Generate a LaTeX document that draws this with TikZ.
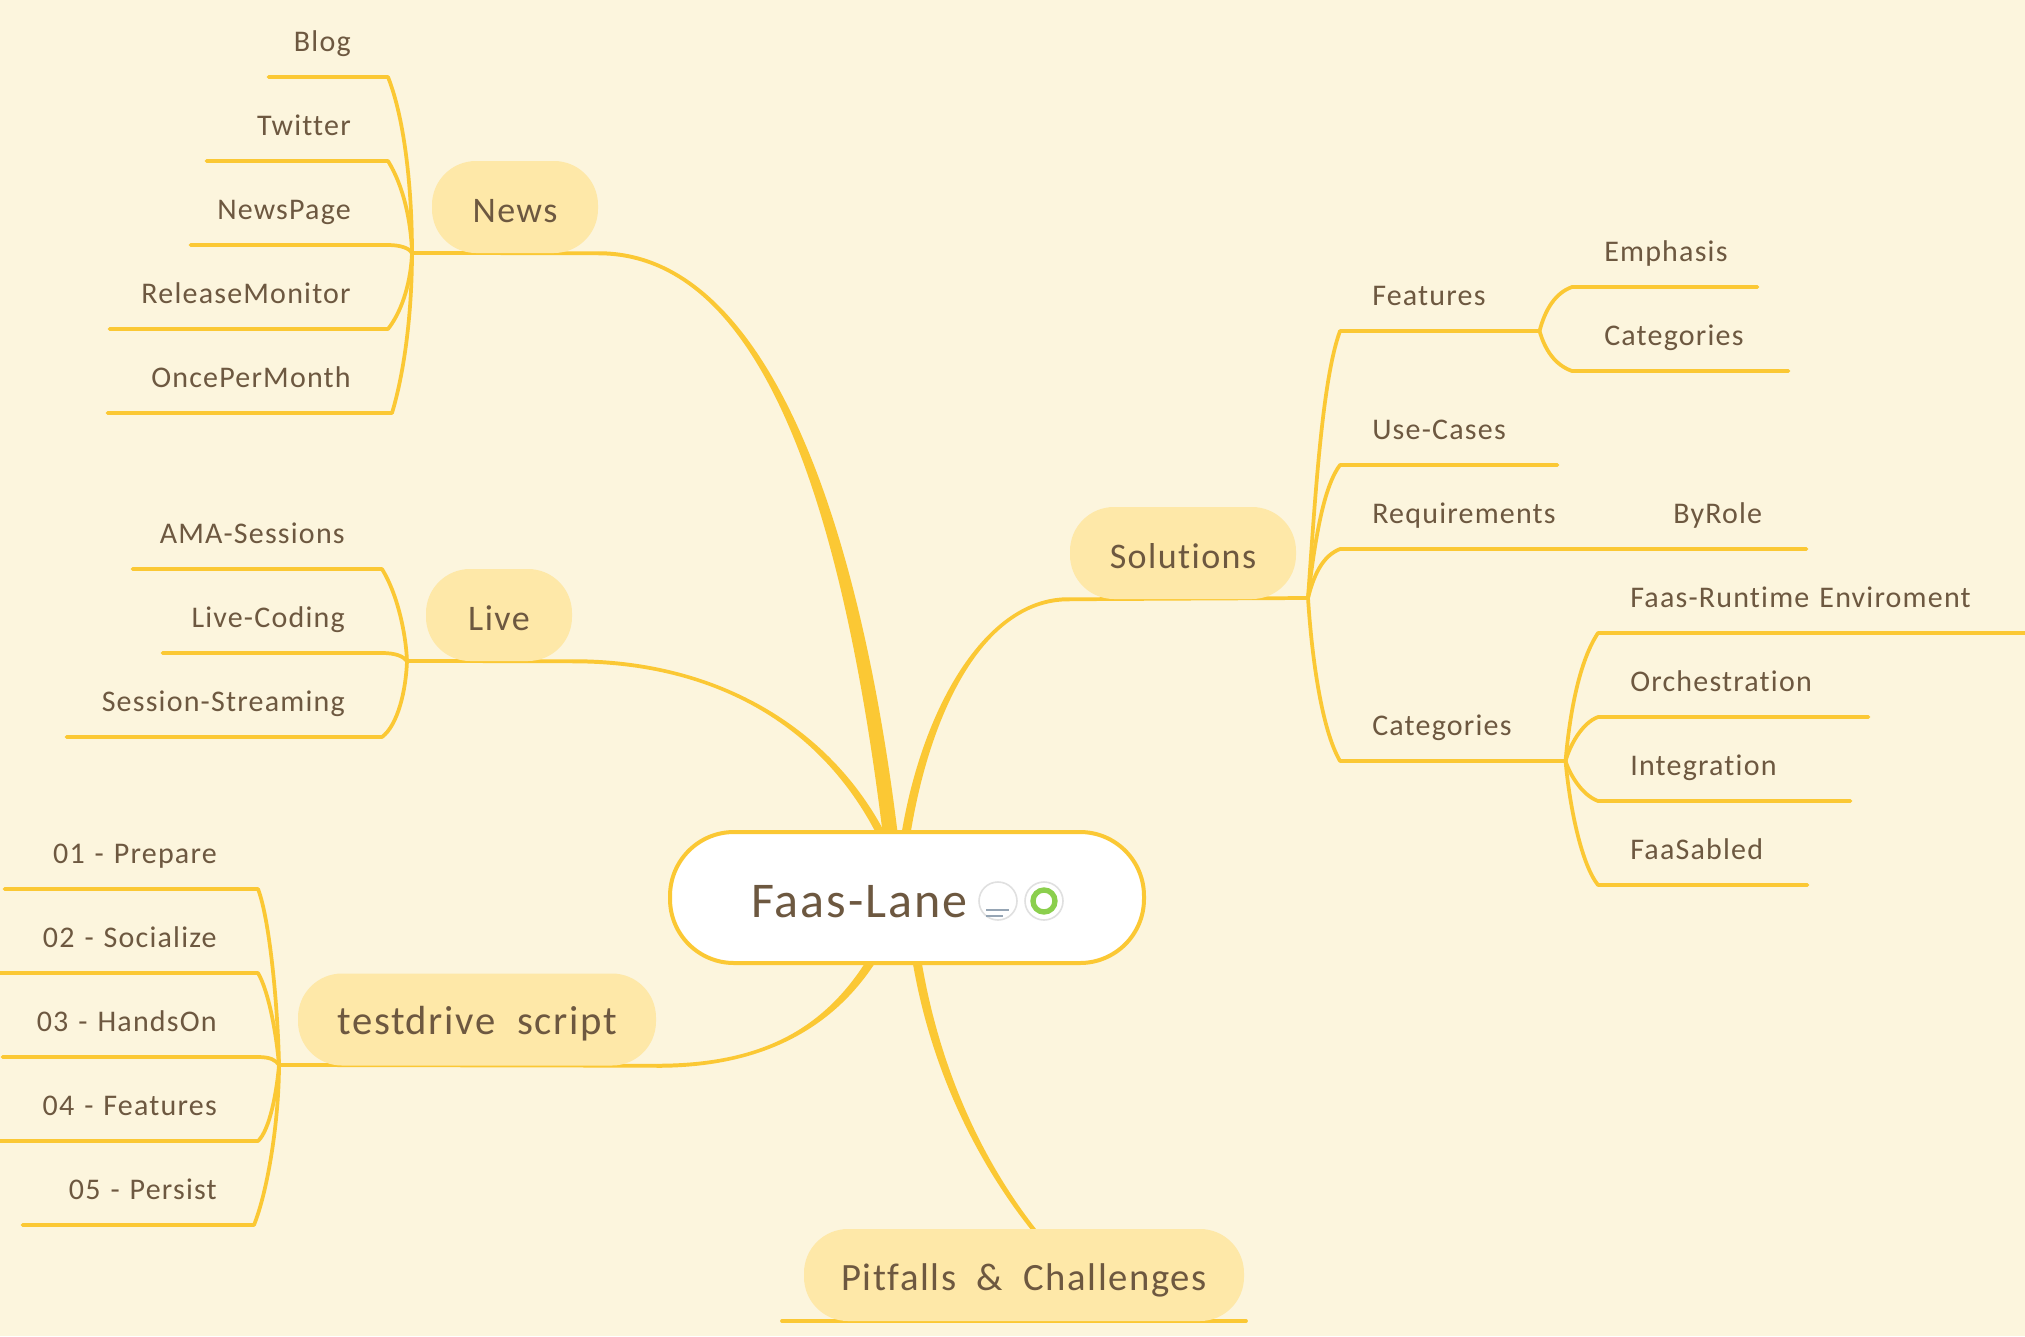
\documentclass[tikz,border=0pt]{standalone}
\usepackage{fontspec}
\setmainfont{Carlito}[LetterSpace=4,WordSpace=2,Ligatures=NoCommon]
\usetikzlibrary{calc}
\usetikzlibrary{backgrounds}
\definecolor{paper}{RGB}{252,245,221}
\definecolor{twigcol}{RGB}{251,200,52}
\definecolor{pillcol}{RGB}{254,232,168}
\definecolor{inkcol}{RGB}{109,88,64}
\definecolor{ringcol}{RGB}{139,207,77}
\definecolor{notecol}{RGB}{150,165,180}
\tikzset{twig/.style={draw=twigcol,line width=2.8pt,line cap=round,line join=round},
    branchfill/.style={fill=twigcol},
    leaf/.style={inner sep=0pt,text height=20pt,text depth=18.75pt,text=inkcol,font=\fontsize{22.5pt}{27pt}\selectfont},
    leafL/.style 2 args={leaf,anchor=south east,align=right,text width=#1,execute at end node={\kern#2}},
    leafR/.style={leaf,anchor=south west,align=left,text width=#1,execute at begin node={\kern24pt}},
    pill/.style={fill=pillcol,rounded corners=33pt,inner sep=0pt,minimum height=69pt,text height=26pt,text depth=3.5pt,text=inkcol,font=\fontsize{27pt}{32pt}\selectfont},
    iconring/.style={circle,draw=black!12,line width=1.2pt,fill=white,inner sep=0pt,minimum size=28.5pt}}
\newcommand{\taperbranch}[6]{\fill[branchfill] ($(#1)-#5$) .. controls ($(#2)-#5$) and ($(#3)-#6$) .. ($(#4)-#6$) -- ($(#4)+#6$) .. controls ($(#3)+#6$) and ($(#2)+#5$) .. ($(#1)+#5$) -- cycle;}

\begin{document}
\begin{tikzpicture}[x=0.75pt,y=0.75pt,yscale=-1,xscale=1]
\useasboundingbox (0,0) rectangle (2025,1336);

% Root and main topics
\node[draw=twigcol,line width=3pt,fill=white,rounded corners=48pt,minimum width=355.5pt,minimum height=98.25pt,inner sep=0pt] (root) at (907,897.5) {};
\node[anchor=base west,inner sep=0pt,text=inkcol,font=\fontsize{37.5pt}{44pt}\selectfont] (rootText) at (751,917) {Faas-Lane};
\node[iconring] (noteIcon) at (998,901) {};
\node[iconring] (doneIcon) at (1044,901) {};
\node[circle,draw=ringcol,inner sep=0pt,line width=4pt,minimum size=16.5pt] (doneRing) at (doneIcon) {};
\node[pill,minimum width=124.5pt] (news) at (515,207) {News};
\node[pill,minimum width=109.5pt] (live) at (499,615) {Live};
\node[pill,minimum width=169.5pt] (solutions) at (1183,553) {Solutions};
\node[pill,minimum width=268.5pt,font=\fontsize{30.5pt}{36pt}\selectfont] (testdrive) at (477,1019.5) {testdrive script};
\node[pill,minimum width=330pt,font=\fontsize{29pt}{34pt}\selectfont] (pitfalls) at (1024,1275) {Pitfalls \& Challenges};

% Text Node
\node[leafL={89.25pt}{27.75pt}] (blog) at (388,77) {Blog};
\node[leafL={135.75pt}{27.75pt}] (twitter) at (388,161) {Twitter};
\node[leafL={147.75pt}{27.75pt}] (newsPage) at (388,245) {NewsPage};
\node[leafL={208.5pt}{27.75pt}] (releaseMonitor) at (388,329) {ReleaseMonitor};
\node[leafL={213pt}{30.75pt}] (oncePerMonth) at (392,413) {OncePerMonth};
% Text Node
\node[leafL={186.75pt}{27.75pt}] (amaSessions) at (382,569) {AMA-Sessions};
\node[leafL={164.25pt}{27.75pt}] (liveCoding) at (382,653) {Live-Coding};
\node[leafL={236.25pt}{27.75pt}] (sessionStreaming) at (382,737) {Session-Streaming};
% Text Node
\node[leafL={189.75pt}{30.75pt}] (prepare) at (258,889) {01 - Prepare};
\node[leafL={195pt}{30.75pt}] (socialize) at (258,973) {02 - Socialize};
\node[leafL={191.25pt}{30.75pt}] (handsOn) at (258,1057) {03 - HandsOn};
\node[leafL={195pt}{30.75pt}] (featuresStep) at (258,1141) {04 - Features};
\node[leafL={173.25pt}{27.75pt}] (persist) at (254,1225) {05 - Persist};
% Text Node
\node[leafR=149.25pt] (features) at (1340,331) {Features};
\node[leafR=162.75pt] (useCases) at (1340,465) {Use-Cases};
\node[leafR=225.75pt] (requirements) at (1340,549) {Requirements};
\node[leafR=123.75pt] (byRole) at (1641,549) {ByRole};
\node[leafR=168.75pt] (categories) at (1340,761) {Categories};
\node[leafR=138.75pt] (emphasis) at (1572,287) {Emphasis};
\node[leafR=162pt] (featureCategories) at (1572,371) {Categories};
\node[leafR=322.5pt] (faasRuntime) at (1598,633) {Faas-Runtime Enviroment};
\node[leafR=202.5pt] (orchestration) at (1598,717) {Orchestration};
\node[leafR=189pt] (integration) at (1598,801) {Integration};
\node[leafR=156.75pt] (faasabled) at (1598,885) {FaaSabled};

\coordinate (fanNews) at (412,253);
\coordinate (fanLive) at (407,661);
\coordinate (fanTest) at (279,1065);
\coordinate (fanSolutions) at (1308,598);
\coordinate (pitfallsL) at (782,1321);
\coordinate (pitfallsR) at (1246,1321);
\coordinate (pitfallsIn) at (1038,1235);

\begin{pgfonlayer}{background}
\fill[paper] (0,0) rectangle (2025,1336);
%Curve Lines
\taperbranch{news.south east}{760,253}{850,500}{891,840}{(0,2)}{(-7.5,0)}
\taperbranch{live.south east}{720,661}{830,730}{884,840}{(0,2)}{(-4.5,0)}
\taperbranch{solutions.south west}{985,598}{925,710}{905,840}{(0,2)}{(4.5,0)}
\taperbranch{testdrive.south east}{760,1066}{830,1030}{875,955}{(0,2)}{(5,0)}
\taperbranch{pitfallsIn}{985,1170}{935,1075}{916,955}{(2.8,0)}{(4.5,0)}
%Straight Lines
\draw[twig] (fanNews) -- (news.south east);
\draw[twig] (fanLive) -- (live.south east);
\draw[twig] (fanTest) -- (testdrive.south east);
\draw[twig] (fanSolutions) -- (solutions.south west);
\draw[twig] (pitfallsL) -- (pitfallsR);
%Curve Lines
\draw[twig] (fanNews) .. controls (412,190) and (405,120) .. (blog.south east) -- (blog.south west);
\draw[twig] (fanNews) .. controls (411,220) and (403,185) .. (twitter.south east) -- (twitter.south west);
\draw[twig] (fanNews) .. controls (410,249) and (402,245) .. (newsPage.south east) -- (newsPage.south west);
\draw[twig] (fanNews) .. controls (411,280) and (403,310) .. (releaseMonitor.south east) -- (releaseMonitor.south west);
\draw[twig] (fanNews) .. controls (412,310) and (405,370) .. (oncePerMonth.south east) -- (oncePerMonth.south west);
%Curve Lines
\draw[twig] (fanLive) .. controls (406,635) and (398,595) .. (amaSessions.south east) -- (amaSessions.south west);
\draw[twig] (fanLive) .. controls (403,656) and (395,653) .. (liveCoding.south east) -- (liveCoding.south west);
\draw[twig] (fanLive) .. controls (406,690) and (398,725) .. (sessionStreaming.south east) -- (sessionStreaming.south west);
%Curve Lines
\draw[twig] (fanTest) .. controls (278,1010) and (270,920) .. (prepare.south east) -- (prepare.south west);
\draw[twig] (fanTest) .. controls (276,1030) and (268,990) .. (socialize.south east) -- (socialize.south west);
\draw[twig] (fanTest) .. controls (276,1060) and (270,1057) .. (handsOn.south east) -- (handsOn.south west);
\draw[twig] (fanTest) .. controls (277,1090) and (270,1130) .. (featuresStep.south east) -- (featuresStep.south west);
\draw[twig] (fanTest) .. controls (279,1120) and (268,1190) .. (persist.south east) -- (persist.south west);
%Curve Lines
\draw[twig] (fanSolutions) .. controls (1315,500) and (1322,380) .. (features.south west) -- (features.south east);
\draw[twig] (fanSolutions) .. controls (1316,530) and (1325,485) .. (useCases.south west) -- (useCases.south east);
\draw[twig] (fanSolutions) .. controls (1315,570) and (1325,555) .. (requirements.south west) -- (byRole.south east);
\draw[twig] (fanSolutions) .. controls (1312,660) and (1322,730) .. (categories.south west) -- (categories.south east);
%Curve Lines
\draw[twig] (features.south east) .. controls (1545,310) and (1555,293) .. (emphasis.south west) -- (emphasis.south east);
\draw[twig] (features.south east) .. controls (1545,350) and (1555,365) .. (featureCategories.south west) -- (featureCategories.south east);
\draw[twig] (categories.south east) .. controls (1570,710) and (1580,660) .. (faasRuntime.south west) -- (faasRuntime.south east);
\draw[twig] (categories.south east) .. controls (1570,745) and (1582,723) .. (orchestration.south west) -- (orchestration.south east);
\draw[twig] (categories.south east) .. controls (1570,775) and (1582,795) .. (integration.south west) -- (integration.south east);
\draw[twig] (categories.south east) .. controls (1570,810) and (1582,865) .. (faasabled.south west) -- (faasabled.south east);
\end{pgfonlayer}

%Straight Lines
\draw[line width=0.9pt,draw=notecol] (986,910) -- (1009,910);
\draw[line width=0.9pt,draw=notecol] (986,916) -- (1003,916);
\end{tikzpicture}
\end{document}
